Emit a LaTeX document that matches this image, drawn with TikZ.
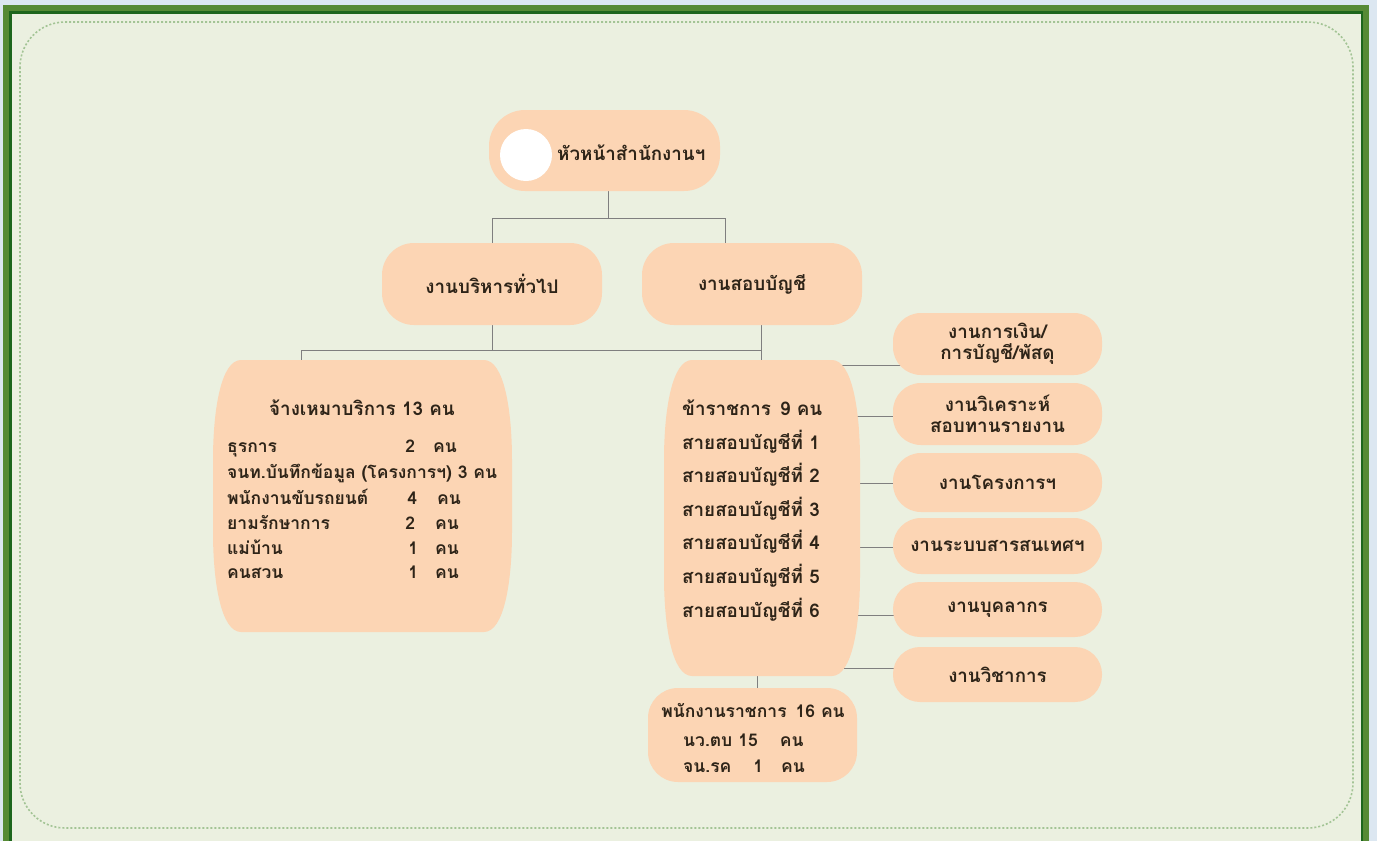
\documentclass[tikz,border=0pt]{standalone}
\usepackage{fontspec}
\newfontfamily\thaifont[Script=Thai]{Loma}
\usetikzlibrary{calc}
\definecolor{outerbg}{HTML}{DCE7F1}
\definecolor{framegreen}{HTML}{568A35}
\definecolor{darkgreen}{HTML}{1D661D}
\definecolor{innerbg}{HTML}{EBF0E0}
\definecolor{dashgreen}{HTML}{A3C495}
\definecolor{boxfill}{HTML}{FCD5B4}
\definecolor{linegray}{HTML}{7F7F7F}
\definecolor{txt}{HTML}{2E2418}
\pgfdeclarelayer{back}
\pgfdeclarelayer{edges}
\pgfsetlayers{back,edges,main}
\begin{document}
\begin{tikzpicture}[x=1pt,y=-1pt,
  font=\thaifont\bfseries\fontsize{18.8}{21}\selectfont, text=txt,
  pill/.style={fill=boxfill, draw=none, rounded corners=#1, align=center, inner sep=0pt},
  link/.style={draw=linegray, line width=1pt},
  rowtxt/.style={anchor=west, inner sep=0pt, font=\thaifont\bfseries\fontsize{17.5}{20}\selectfont},
  hole/.style={draw=none, inner sep=0pt}]
\useasboundingbox (0,0) rectangle (1377,841);
% frame
\begin{pgfonlayer}{back}
\fill[outerbg] (0,0) rectangle (1377,841);
\fill[framegreen] (3,5) rectangle (1369,841);
\fill[darkgreen] (9,11) rectangle (1363,841);
\fill[innerbg] (12,14) rectangle (1361,841);
\draw[dashgreen, line width=1.6pt, dash pattern=on 2pt off 2pt, rounded corners=45] (20,22) rectangle (1353,828);
\end{pgfonlayer}
% head
\node[pill=36, minimum width=231, minimum height=81] (head) at (604.5,150.5) {};
\node[circle, fill=white, minimum size=52, inner sep=0pt] (photo) at (526,155) {};
\node[anchor=west, inner sep=0pt] (headlbl) at (557,153) {หัวหน้าสำนักงานฯ};
% level 2
\node[pill=32, minimum width=220, minimum height=82] (adm) at (492,284) {งานบริหารทั่วไป};
\node[pill=32, minimum width=220, minimum height=82] (aud) at (752,284) {งานสอบบัญชี};
% left barrel
\fill[boxfill] (241,360) -- (484,360) .. controls (504,360) and (512,410) .. (512,460) -- (512,532)
  .. controls (512,582) and (504,632) .. (484,632) -- (241,632) .. controls (221,632) and (213,582) .. (213,532)
  -- (213,460) .. controls (213,410) and (221,360) .. (241,360) -- cycle;
\node[hole, minimum width=299, minimum height=272] (lb) at (362.5,496) {};
\node[inner sep=0pt] (lbtitle) at (362,408) {จ้างเหมาบริการ 13 คน};
\node[rowtxt] (l1) at (227,448) {\makebox[176pt][l]{ธุรการ}\makebox[14pt][c]{2}\hspace{16pt}คน};
\node[rowtxt] (l2) at (227,473) {จนท.บันทึกข้อมูล (โครงการฯ) 3 คน};
\node[rowtxt] (l3) at (227,497) {\makebox[180pt][l]{พนักงานขับรถยนต์}\makebox[10pt][c]{4}\hspace{20pt}คน};
\node[rowtxt] (l4) at (227,522) {\makebox[176pt][l]{ยามรักษาการ}\makebox[14pt][c]{2}\hspace{18pt}คน};
\node[rowtxt] (l5) at (227,547) {\makebox[181pt][l]{แม่บ้าน}\makebox[10pt][c]{1}\hspace{17pt}คน};
\node[rowtxt] (l6) at (227,572) {\makebox[181pt][l]{คนสวน}\makebox[10pt][c]{1}\hspace{17pt}คน};
% right barrel
\fill[boxfill] (692,360) -- (832,360) .. controls (852,360) and (860,410) .. (860,460) -- (860,576)
  .. controls (860,626) and (852,676) .. (832,676) -- (692,676) .. controls (672,676) and (664,626) .. (664,576)
  -- (664,460) .. controls (664,410) and (672,360) .. (692,360) -- cycle;
\node[hole, minimum width=196, minimum height=316] (rb) at (762,518) {};
\node[anchor=west, inner sep=0pt] (c0) at (682,408) {ข้าราชการ\hspace{9pt}9 คน};
\foreach \i/\y in {1/442,2/475,3/509,4/542,5/576,6/610}
  \node[anchor=west, inner sep=0pt] (c\i) at (682,\y) {สายสอบบัญชีที่ \i};
% bottom box
\node[pill=30, minimum width=209, minimum height=94] (pb) at (752.5,735) {};
\node[rowtxt, anchor=center] (p1) at (753,710) {พนักงานราชการ\hspace{9pt}16 คน};
\node[rowtxt] (p2) at (683,740) {นว.ตบ\hspace{6pt}15\hspace{22pt}คน};
\node[rowtxt] (p3) at (683,766) {จน.รค\hspace{22pt}1\hspace{18pt}คน};
% right boxes
\node[pill=28, minimum width=209, minimum height=62] (r1) at (997.5,344) {งานการเงิน/\\การบัญชี/พัสดุ};
\node[pill=28, minimum width=209, minimum height=62] (r2) at (997.5,414) {งานวิเคราะห์\\สอบทานรายงาน};
\node[pill=28, minimum width=209, minimum height=59] (r3) at (997.5,482.5) {งานโครงการฯ};
\node[pill=28, minimum width=209, minimum height=56] (r4) at (997.5,546) {งานระบบสารสนเทศฯ};
\node[pill=27, minimum width=209, minimum height=55] (r5) at (997.5,609.5) {งานบุคลากร};
\node[pill=27, minimum width=209, minimum height=55] (r6) at (997.5,674.5) {งานวิชาการ};
% connectors
\coordinate (j1) at (608,218);
\coordinate (j2) at (492,350);
\coordinate (j3) at (761,350);
\coordinate (j4) at (301,350);
\coordinate (j5) at (757,0);
\begin{pgfonlayer}{edges}
\draw[link] (head.south -| j1) -- (j1);
\draw[link] (j1) -| (adm.north);
\draw[link] (j1) -| ($(aud.north)+(-27,0)$);
\draw[link] (adm.south) -- (j2);
\draw[link] (j4) -- (j3);
\draw[link] (aud.south -| j3) -- (j3 |- rb.north);
\draw[link] (j4) -- (j4 |- lb.north);
\draw[link] (rb.south -| j5) -- (pb.north -| j5);
\foreach \i/\x/\y in {1/835/365,2/853/416,3/859/483,4/859/547,5/853/615,6/835/668}{
  \coordinate (e\i) at (\x,\y);
  \draw[link] (e\i) -- (e\i -| r\i.center);
}
\end{pgfonlayer}
\end{tikzpicture}
\end{document}
